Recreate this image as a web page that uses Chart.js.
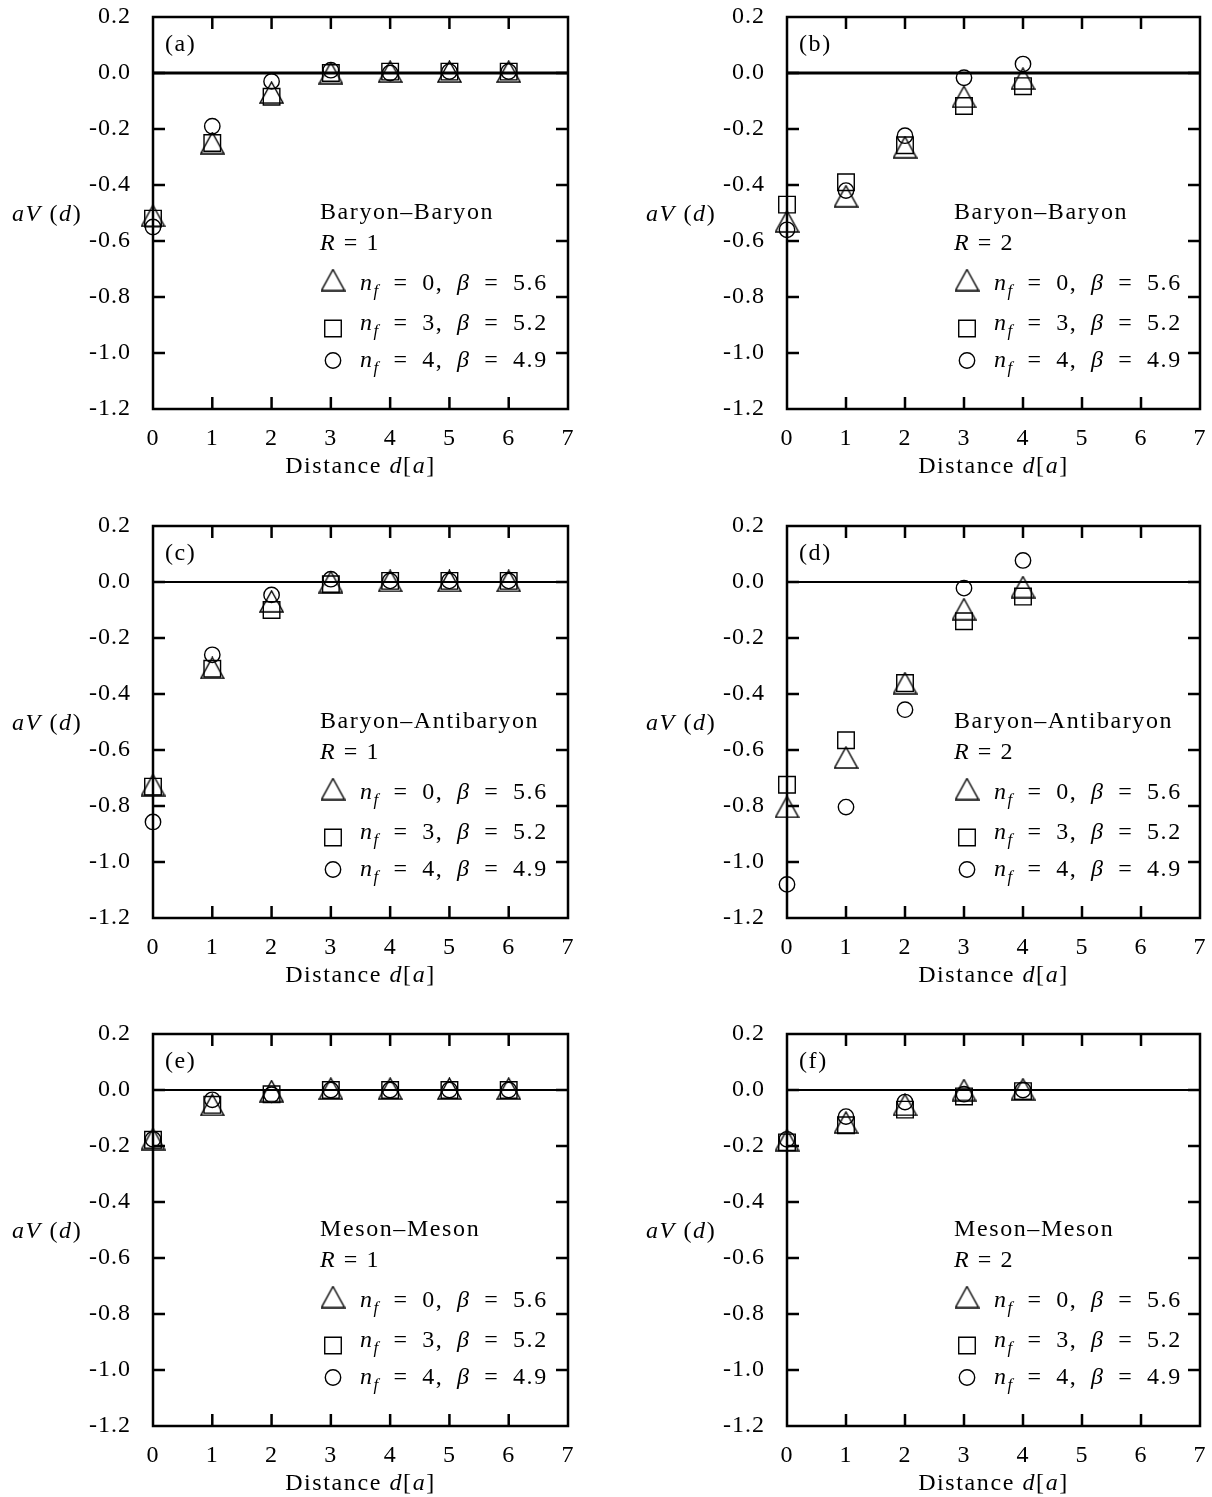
<!DOCTYPE html>
<html>
<head>
<meta charset="utf-8">
<script src="https://cdn.jsdelivr.net/npm/chart.js@4.4.1/dist/chart.umd.min.js"></script>
<style>
  body { margin: 0; background: #fff; }
  #page { position: relative; width: 1212px; height: 1497px; overflow: hidden; }
  canvas { position: absolute; }
</style>
</head>
<body>
<div id="page">
  <canvas id="chartA" width="600" height="480" style="left:0;top:0"></canvas>
  <canvas id="chartB" width="600" height="480" style="left:634px;top:0"></canvas>
  <canvas id="chartC" width="600" height="480" style="left:0;top:509px"></canvas>
  <canvas id="chartD" width="600" height="480" style="left:634px;top:509px"></canvas>
  <canvas id="chartE" width="600" height="480" style="left:0;top:1017px"></canvas>
  <canvas id="chartF" width="600" height="480" style="left:634px;top:1017px"></canvas>
</div>
<script>
// distances d (lattice units)
const distLong = [0, 1, 2, 3, 4, 5, 6];
const distShort = [0, 1, 2, 3, 4];

// Baryon-Baryon, R = 1
const bbR1Nf0 = [-0.51, -0.25, -0.07, 0.0, 0.005, 0.005, 0.005];
const bbR1Nf3 = [-0.52, -0.25, -0.085, 0.0, 0.005, 0.005, 0.005];
const bbR1Nf4 = [-0.55, -0.19, -0.03, 0.01, 0.0, 0.005, 0.005];

// Baryon-Baryon, R = 2
const bbR2Nf0 = [-0.53, -0.44, -0.265, -0.085, -0.02];
const bbR2Nf3 = [-0.47, -0.39, -0.258, -0.118, -0.047];
const bbR2Nf4 = [-0.56, -0.42, -0.224, -0.017, 0.032];

// Baryon-Antibaryon, R = 1
const baR1Nf0 = [-0.725, -0.307, -0.069, 0.0, 0.004, 0.004, 0.004];
const baR1Nf3 = [-0.731, -0.31, -0.1, -0.008, 0.004, 0.004, 0.004];
const baR1Nf4 = [-0.857, -0.26, -0.046, 0.01, 0.004, 0.004, 0.004];

// Baryon-Antibaryon, R = 2
const baR2Nf0 = [-0.803, -0.627, -0.361, -0.097, -0.018];
const baR2Nf3 = [-0.724, -0.565, -0.361, -0.14, -0.052];
const baR2Nf4 = [-1.08, -0.804, -0.456, -0.022, 0.077];

// Meson-Meson, R = 1
const mmR1Nf0 = [-0.175, -0.053, -0.004, 0.005, 0.005, 0.005, 0.005];
const mmR1Nf3 = [-0.178, -0.053, -0.015, 0.0, 0.0, 0.0, 0.0];
const mmR1Nf4 = [-0.176, -0.035, -0.017, 0.0, 0.0, 0.0, 0.0];

// Meson-Meson, R = 2
const mmR2Nf0 = [-0.179, -0.116, -0.053, 0.0, 0.003];
const mmR2Nf3 = [-0.187, -0.126, -0.07, -0.023, -0.004];
const mmR2Nf4 = [-0.176, -0.095, -0.043, -0.015, 0.0];

const nfValues = ['0', '3', '4'];
const betaValues = ['5.6', '5.2', '4.9'];

const FONT = '"Liberation Serif", serif';
const SIZE = 24;
const SP = '\u2002';

function makeTriangle(w, h, lw) {
  const c = document.createElement('canvas');
  c.width = w + 2;
  c.height = h + 2;
  const g = c.getContext('2d');
  g.strokeStyle = '#000';
  g.lineWidth = lw;
  g.beginPath();
  g.moveTo(c.width / 2, 1);
  g.lineTo(c.width - 1, c.height - 1);
  g.lineTo(1, c.height - 1);
  g.closePath();
  g.stroke();
  return c;
}

const triangle = makeTriangle(23, 21, 1.4);
const markers = [
  { pointStyle: triangle, radius: 11 },
  { pointStyle: 'rect', radius: 11.7 },
  { pointStyle: 'circle', radius: 7.7 }
];

function drawRuns(ctx, runs, x, y) {
  let cx = x;
  runs.forEach(r => {
    const size = r.sub ? 17 : SIZE;
    ctx.font = (r.it ? 'italic ' : '') + size + 'px ' + FONT;
    ctx.fillText(r.t, cx, y + (r.sub ? 6 : 0));
    cx += ctx.measureText(r.t).width;
  });
  return cx - x;
}

function runsWidth(ctx, runs) {
  let w = 0;
  runs.forEach(r => {
    ctx.font = (r.it ? 'italic ' : '') + (r.sub ? 17 : SIZE) + 'px ' + FONT;
    w += ctx.measureText(r.t).width;
  });
  return w;
}

const framePlugin = {
  id: 'frame',
  beforeDraw(chart) {
    chart.ctx.letterSpacing = '1px';
  },
  beforeDatasetsDraw(chart) {
    const { ctx, chartArea: a, scales: { x, y } } = chart;
    const p = chart.options.plugins.frame;
    const tl = 12;
    ctx.save();
    ctx.strokeStyle = '#000';
    ctx.lineWidth = 2.5;
    ctx.strokeRect(a.left, a.top, a.right - a.left, a.bottom - a.top);
    const y0 = y.getPixelForValue(0);
    ctx.lineWidth = p.zeroWidth;
    ctx.beginPath();
    ctx.moveTo(a.left, y0);
    ctx.lineTo(a.right, y0);
    ctx.stroke();
    ctx.lineWidth = 2.5;
    ctx.beginPath();
    x.ticks.forEach(t => {
      if (t.value <= x.min || t.value >= x.max) return;
      const px = x.getPixelForValue(t.value);
      ctx.moveTo(px, a.bottom); ctx.lineTo(px, a.bottom - tl);
      ctx.moveTo(px, a.top); ctx.lineTo(px, a.top + tl);
    });
    y.ticks.forEach(t => {
      if (t.value <= y.min + 1e-9 || t.value >= y.max - 1e-9) return;
      const py = y.getPixelForValue(t.value);
      ctx.moveTo(a.left, py); ctx.lineTo(a.left + tl, py);
      ctx.moveTo(a.right, py); ctx.lineTo(a.right - tl, py);
    });
    ctx.stroke();
    ctx.restore();
  },
  afterDraw(chart) {
    const { ctx, chartArea: a } = chart;
    const p = chart.options.plugins.frame;
    ctx.save();
    ctx.fillStyle = '#000';
    ctx.textBaseline = 'alphabetic';
    ctx.textAlign = 'left';
    ctx.letterSpacing = '1.6px';

    // panel tag
    drawRuns(ctx, [{ t: p.tag }], a.left + 12, a.top + 34);

    // y axis title aV(d)
    drawRuns(ctx, [{ t: 'aV', it: true }, { t: ' (' }, { t: 'd', it: true }, { t: ')' }],
      a.left - 141, (a.top + a.bottom) / 2 + 8);

    // x axis title
    const xt = [{ t: 'Distance ' }, { t: 'd', it: true }, { t: '[' }, { t: 'a', it: true }, { t: ']' }];
    const w = runsWidth(ctx, xt);
    drawRuns(ctx, xt, (a.left + a.right) / 2 - w / 2, a.bottom + 64);

    // key
    const lx = a.left + 167;
    drawRuns(ctx, [{ t: p.title }], lx, a.top + 202);
    drawRuns(ctx, [{ t: 'R', it: true }, { t: ' = ' + p.R }], lx, a.top + 233);
    const rowBase = [273, 313, 350];
    const rowMark = [263, 311.5, 343.5];
    for (let i = 0; i < 3; i++) {
      ctx.strokeStyle = '#000';
      ctx.fillStyle = 'rgba(0,0,0,0)';
      ctx.lineWidth = 1.4;
      Chart.helpers.drawPoint(ctx, {
        pointStyle: markers[i].pointStyle, radius: markers[i].radius,
        borderWidth: 1.4, rotation: 0
      }, a.left + 180, a.top + rowMark[i]);
      ctx.fillStyle = '#000';
      drawRuns(ctx, [
        { t: 'n', it: true }, { t: 'f', it: true, sub: true },
        { t: SP + '=' + SP + nfValues[i] + ',' + SP }, { t: 'β', it: true },
        { t: SP + '=' + SP + betaValues[i] }
      ], a.left + 207, a.top + rowBase[i]);
    }
    ctx.restore();
  }
};

function buildChart(id, tag, title, R, dist, series, zeroWidth, padRight) {
  const datasets = series.map((vals, i) => ({
    label: 'n_f = ' + nfValues[i],
    data: dist.map((d, k) => ({ x: d, y: vals[k] })),
    showLine: false,
    clip: false,
    pointStyle: markers[i].pointStyle,
    pointRadius: markers[i].radius,
    pointHoverRadius: markers[i].radius,
    pointBorderWidth: 1.4,
    pointBorderColor: '#000',
    pointBackgroundColor: 'rgba(0,0,0,0)'
  }));
  return new Chart(document.getElementById(id), {
    type: 'scatter',
    data: { datasets },
    plugins: [framePlugin],
    options: {
      responsive: false,
      animation: false,
      layout: { padding: { top: 17, right: padRight, left: 0, bottom: 0 } },
      plugins: {
        legend: { display: false },
        tooltip: { enabled: false },
        frame: { tag, title, R, zeroWidth }
      },
      scales: {
        x: {
          type: 'linear', min: 0, max: 7,
          grid: { display: false },
          border: { display: false },
          ticks: { stepSize: 1, color: '#000', padding: 7, font: { family: FONT, size: SIZE }, maxRotation: 0 },
          afterFit: s => { s.height = 71; s.paddingLeft = 0; s.paddingRight = 0; }
        },
        y: {
          type: 'linear', min: -1.2, max: 0.2,
          grid: { display: false },
          border: { display: false },
          ticks: {
            stepSize: 0.2, color: '#000', padding: 14, font: { family: FONT, size: SIZE },
            callback: v => (Math.abs(v) < 1e-9 ? '0.0' : v.toFixed(1))
          },
          afterFit: s => { s.width = 153; s.paddingTop = 0; s.paddingBottom = 0; }
        }
      }
    }
  });
}

buildChart('chartA', '(a)', 'Baryon–Baryon', '1', distLong, [bbR1Nf0, bbR1Nf3, bbR1Nf4], 2.8, 32);
buildChart('chartB', '(b)', 'Baryon–Baryon', '2', distShort, [bbR2Nf0, bbR2Nf3, bbR2Nf4], 2.8, 34);
buildChart('chartC', '(c)', 'Baryon–Antibaryon', '1', distLong, [baR1Nf0, baR1Nf3, baR1Nf4], 2, 32);
buildChart('chartD', '(d)', 'Baryon–Antibaryon', '2', distShort, [baR2Nf0, baR2Nf3, baR2Nf4], 2, 34);
buildChart('chartE', '(e)', 'Meson–Meson', '1', distLong, [mmR1Nf0, mmR1Nf3, mmR1Nf4], 2, 32);
buildChart('chartF', '(f)', 'Meson–Meson', '2', distShort, [mmR2Nf0, mmR2Nf3, mmR2Nf4], 2, 34);
</script>
</body>
</html>
